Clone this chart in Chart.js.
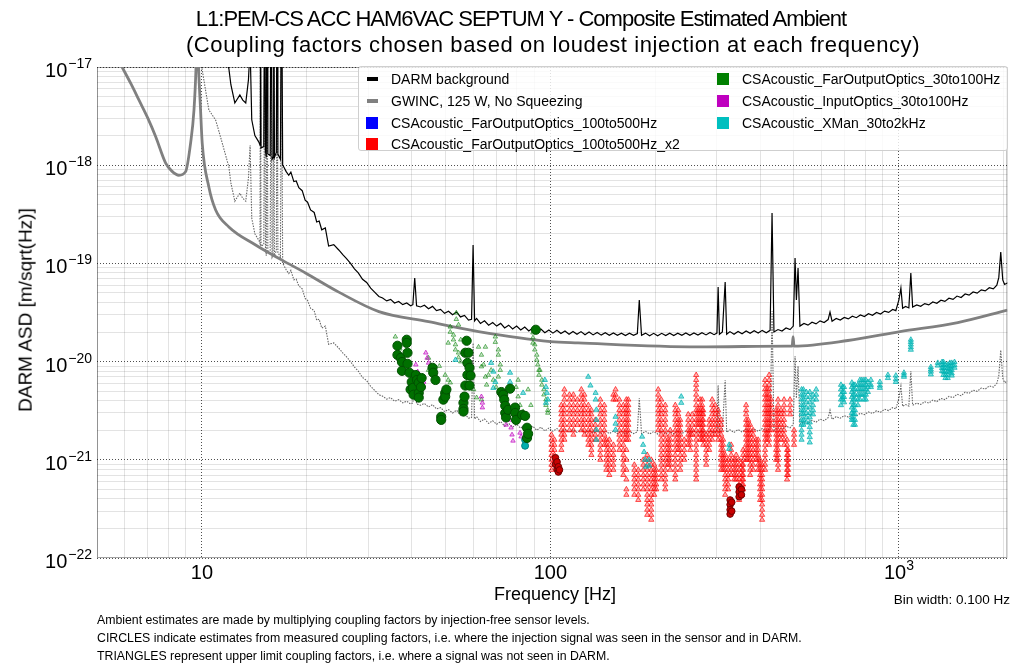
<!DOCTYPE html>
<html><head><meta charset="utf-8">
<script src="https://cdn.jsdelivr.net/npm/chart.js@4.4.1/dist/chart.umd.min.js"></script>
<style>
body{margin:0;background:#fff;font-family:"Liberation Sans",Arial,Helvetica,sans-serif;}
#wrap{position:relative;width:1013px;height:665px;overflow:hidden;background:#fff;}
#c{position:absolute;left:0;top:0;}
.t{position:absolute;white-space:nowrap;color:#000;line-height:1.2;}
.cy{transform:translateY(-50%);}
.cxy{transform:translate(-50%,-50%);}
#legend{position:absolute;left:358px;top:66px;width:650px;height:85px;background:rgba(255,255,255,0.82);border:1px solid #cfcfcf;border-radius:3px;box-sizing:border-box;}
.lt{position:absolute;font-size:14px;white-space:nowrap;transform:translateY(-50%);line-height:1.2;}
.lm{position:absolute;}
</style></head><body>
<div id="wrap">
<canvas id="c" width="1013" height="665"></canvas>
<div class="t cxy" style="left:521px;top:19px;font-size:22px;letter-spacing:-1px;">L1:PEM-CS ACC HAM6VAC SEPTUM Y - Composite Estimated Ambient</div>
<div class="t cxy" style="left:553px;top:45px;font-size:22px;letter-spacing:0.6px;">(Coupling factors chosen based on loudest injection at each frequency)</div>
<div id="legend">
  <div class="lm" style="left:8px;top:10px;width:11px;height:4px;background:#000;"></div>
  <div class="lt" style="left:32px;top:12px;">DARM background</div>
  <div class="lm" style="left:8px;top:32px;width:11px;height:4px;background:#808080;"></div>
  <div class="lt" style="left:32px;top:34px;">GWINC, 125 W, No Squeezing</div>
  <div class="lm" style="left:7px;top:50px;width:12px;height:12px;background:#0000ff;"></div>
  <div class="lt" style="left:32px;top:56px;">CSAcoustic_FarOutputOptics_100to500Hz</div>
  <div class="lm" style="left:7px;top:71px;width:12px;height:12px;background:#ff0000;"></div>
  <div class="lt" style="left:32px;top:77px;">CSAcoustic_FarOutputOptics_100to500Hz_x2</div>
  <div class="lm" style="left:358px;top:6px;width:12px;height:12px;background:#008000;"></div>
  <div class="lt" style="left:383px;top:12px;">CSAcoustic_FarOutputOptics_30to100Hz</div>
  <div class="lm" style="left:358px;top:28px;width:12px;height:12px;background:#bf00bf;"></div>
  <div class="lt" style="left:383px;top:34px;">CSAcoustic_InputOptics_30to100Hz</div>
  <div class="lm" style="left:358px;top:50px;width:12px;height:12px;background:#00bfbf;"></div>
  <div class="lt" style="left:383px;top:56px;">CSAcoustic_XMan_30to2kHz</div>
</div>
<div class="t" style="left:26px;top:310px;font-size:19px;transform:translate(-50%,-50%) rotate(-90deg);">DARM ASD [m/sqrt(Hz)]</div>
<div class="t cxy" style="left:555px;top:595px;font-size:18px;">Frequency [Hz]</div>
<div class="t cy" style="right:3px;top:600px;font-size:13.5px;">Bin width: 0.100 Hz</div>
<div class="t cy" style="left:97px;top:620px;font-size:12.3px;">Ambient estimates are made by multiplying coupling factors by injection-free sensor levels.</div>
<div class="t cy" style="left:97px;top:638px;font-size:12.3px;">CIRCLES indicate estimates from measured coupling factors, i.e. where the injection signal was seen in the sensor and in DARM.</div>
<div class="t cy" style="left:97px;top:656px;font-size:12.3px;">TRIANGLES represent upper limit coupling factors, i.e. where a signal was not seen in DARM.</div>
</div>
<script>
// ---------------- DATA ----------------
// DARM background ASD [Hz] / [m/sqrt(Hz)]
const darmFreq = [9.8,10.47,10.95,11.31,11.95,12.11,12.43,12.85,13.1,13.36,13.6,13.75,13.9,14.19,14.57,14.68,14.72,14.78,15.05,15.14,15.22,15.3,15.38,15.46,15.7,15.8,15.9,16.0,16.07,16.15,16.35,16.44,16.52,16.8,16.92,17.05,17.18,17.45,17.75,18.0,18.36,18.65,18.97,19.4,19.78,20.1,20.5,21.0,21.35,21.7,22.07,22.6,23.1,23.9,
24.7,25.4,26.0,26.7,27.4,28.1,28.9,29.7,30.5,31.3,32.2,33.0,33.9,34.8,35.7,36.7,37.7,38.7,39.7,40.3,40.8,41.3,42.4,43.5,44.7,45.9,47.1,48.4,49.7,51.0,52.4,53.8,55.2,56.7,58.2,59.4,60.0,60.6,61.4,63.0,64.7,66.5,68.3,70.1,72.0,73.9,75.9,77.9,80.0,82.2,84.4,86.7,89.0,91.4,93.9,96.4,99.0,101.7,104.4,107.2,110.1,113.1,116.1,119.2,122.4,125.7,129.1,132.6,136.2,139.9,143.7,147.6,151.6,155.7,159.9,164.2,168.6,173.2,177.6,179.9,182.6,187.5,192.6,197.8,203.1,208.6,214.2,220.0,225.9,232.0,238.3,244.7,251.3,258.1,265.1,272.2,279.6,287.1,294.9,300.5,302.9,305.5,311.5,317.3,320.5,327.5,336.4,345.5,354.8,364.4,374.2,384.3,394.7,405.3,416.3,427.0,432.5,438.0,449.8,461.9,474.4,487.2,497.6,503.5,508.0,513.6,520.0,534.0,548.4,563.2,578.4,594.0,610.1,626.5,634.3,643.0,660.8,678.6,697.0,715.8,735.1,755.0,775.3,796.3,817.8,839.9,862.5,885.8,909.8,934.3,959.6,980,1000,1013.3,1025,1045,1068,1082,1095,1125,1155,1186,1218,1251,1285,1320,1355,1392,1430,1468,1508,1549,1590,1633,1677,1723,1769,1817,1866,1910,1935,1960,1986,2010,2053];
const darmASD = [1.5e-16,3.65e-17,2.88e-17,1.94e-17,9.6e-18,6.6e-18,4.3e-18,5.2e-18,4.6e-18,4.3e-18,7.4e-18,1.6e-17,2.9e-18,2.0e-18,1.72e-18,1.6e-18,2e-16,1.5e-18,1.55e-18,2e-16,1.4e-18,1.2e-18,2e-16,1.3e-18,1.25e-18,2e-16,1.15e-18,1.2e-18,2e-16,1.2e-18,1.35e-18,2e-16,1.3e-18,1.15e-18,2e-16,1.0e-18,9.6e-19,8.6e-19,7.9e-19,8.5e-19,6.8e-19,6.9e-19,5.9e-19,5.5e-19,4.4e-19,4.2e-19,3.5e-19,3.3e-19,2.64e-19,2.7e-19,2.2e-19,2.3e-19,1.5e-19,1.55e-19,
1.37e-19,1.22e-19,1.12e-19,1.0e-19,8.8e-20,8.0e-20,6.9e-20,6.4e-20,5.6e-20,5.1e-20,4.6e-20,4.45e-20,4.15e-20,4.3e-20,3.95e-20,4.1e-20,3.8e-20,3.95e-20,3.7e-20,3.8e-20,7.1e-20,3.7e-20,3.6e-20,3.75e-20,3.45e-20,3.65e-20,3.3e-20,3.4e-20,3.1e-20,3.25e-20,3.0e-20,3.2e-20,2.85e-20,2.95e-20,2.65e-20,2.7e-20,1.54e-19,2.6e-20,2.75e-20,2.45e-20,2.6e-20,2.35e-20,2.5e-20,2.3e-20,2.45e-20,2.2e-20,2.35e-20,2.15e-20,2.3e-20,2.1e-20,2.25e-20,2.05e-20,2.2e-20,2.0e-20,2.15e-20,1.97e-20,2.1e-20,1.95e-20,2.08e-20,1.93e-20,2.05e-20,1.9e-20,2.03e-20,1.9e-20,2.02e-20,1.88e-20,2.0e-20,1.87e-20,1.98e-20,1.86e-20,1.97e-20,1.85e-20,1.96e-20,1.85e-20,1.95e-20,1.84e-20,1.95e-20,1.85e-20,1.93e-20,4.24e-20,1.85e-20,1.95e-20,1.83e-20,1.94e-20,1.83e-20,1.94e-20,1.84e-20,1.95e-20,1.84e-20,1.95e-20,1.85e-20,1.96e-20,1.85e-20,1.96e-20,1.86e-20,1.97e-20,1.87e-20,1.98e-20,1.88e-20,1.95e-20,5.75e-20,1.9e-20,2.0e-20,6.46e-20,1.9e-20,2.02e-20,1.9e-20,2.03e-20,1.92e-20,2.05e-20,1.94e-20,2.06e-20,1.95e-20,2.08e-20,1.97e-20,2.08e-20,3.26e-19,2.0e-20,2.12e-20,2.05e-20,2.2e-20,2.12e-20,2.3e-20,1.135e-19,4.24e-20,8.98e-20,2.3e-20,2.45e-20,2.35e-20,2.52e-20,2.42e-20,2.6e-20,2.5e-20,2.68e-20,3.2e-20,2.58e-20,2.75e-20,2.65e-20,2.82e-20,2.72e-20,2.9e-20,2.8e-20,2.98e-20,2.88e-20,3.07e-20,2.96e-20,3.16e-20,3.05e-20,3.27e-20,3.17e-20,3.4e-20,3.3e-20,4.24e-20,5.62e-20,3.5e-20,3.65e-20,3.52e-20,7.98e-20,3.6e-20,3.78e-20,3.66e-20,3.9e-20,3.78e-20,4.05e-20,3.92e-20,4.22e-20,4.1e-20,4.42e-20,4.3e-20,4.65e-20,4.5e-20,4.88e-20,4.75e-20,5.12e-20,4.98e-20,5.38e-20,5.25e-20,5.65e-20,5.5e-20,6.0e-20,7.2e-20,1.306e-19,6.8e-20,6.1e-20,6.35e-20];
// The grey dotted trace of the original figure is the DARM background divided by this factor
const darmRefFactor = 10;

// GWINC noise curve [Hz] / [m/sqrt(Hz)]
const gwincFreq = [5.5,5.9,6.25,6.6,7.0,7.37,7.87,8.2,8.59,8.98,9.28,9.49,9.62,9.7,9.78,9.9,10.02,10.47,10.95,11.95,14.26,16.98,19.82,24.7,32.2,44.7,62.2,100,120,265,480,494,497,500,714,1007,1476,2050];
const gwincASD = [1.6e-17,1.0e-17,6.8e-18,4.6e-18,3.0e-18,1.95e-18,1.05e-18,8.7e-19,7.9e-19,8.6e-19,1.68e-18,3.65e-18,1.0e-17,3e-17,1.0e-17,4.0e-18,1.68e-18,6.0e-19,3.5e-19,2.35e-19,1.54e-19,1.08e-19,8.0e-20,5.1e-20,3.23e-20,2.55e-20,2.02e-20,1.6e-20,1.55e-20,1.41e-20,1.44e-20,1.44e-20,1.8e-20,1.44e-20,1.64e-20,2.02e-20,2.5e-20,3.35e-20];

// Ambient estimates. Each row: [frequency Hz, value1, value2, ...], values in units of 1e-21 m/sqrt(Hz)
const UNIT = 1e-21;
const farOut30to100_circles = [[36.4,14.5,11.7],[37.2,10.9],[37.5,9.9,8.05],[38.7,16.7,15.5],[38.9,12.3,9.5],[39.4,7.7],[39.7,5.2],[40.0,6.2],[40.3,5.4],[40.5,4.6],[41.1,7.3],[41.4,6.5],[41.9,6.1,4.8,4.3],[42.5,5.5],[42.7,6.8],[45.9,8.65],[46.1,7.7],[46.8,6.5],[48.6,2.74,2.55],[49.3,4.1],[49.9,4.8,4.4],[50.3,5.2],[56.3,3.8,3.3,3.1],[56.7,4.4],[57.0,12.3,5.7],[57.5,16.3],[57.8,9.7,7.3],[58.2,12.3],[58.6,8.65,5.7],[59.0,7.2],[72.3,4.9],[73.2,4.6],[73.7,4.1],[74.2,3.55,3.0],[74.6,2.7],[75.6,3.23],[76.6,5.3],[79.2,3.4,3.0],[79.7,2.55],[82.9,2.87],[84.6,2.8],[85.7,2.12,1.67],[86.3,1.84],[90.8,21.1]];
const farOut30to100_triangles = [[35.9,17.9],[37.0,13.5],[44.7,10.9,8.2],[45.3,9.3],[48.0,9.0],[49.9,7.3],[50.9,15.5,6.5],[51.6,22.6,20.0,6.1],[52.7,18.7,16.7],[53.4,14.9,13.2],[53.7,31.4,27.0],[54.5,23.7,12.3,11.0],[55.3,16.7,10.0],[58.2,6.5],[60.2,5.2],[61.4,4.3],[62.2,14.1],[63.4,11.7,8.9,4.1],[64.3,9.3],[65.1,14.1,7.0],[65.6,5.8],[66.4,7.3],[67.6,8.2],[68.6,6.5],[69.5,17.9,15.8],[69.9,5.5],[70.9,13.2,11.7,7.0],[71.8,9.3,8.2],[79.7,5.5],[80.8,6.5,4.4],[81.8,3.6],[83.5,3.1],[86.3,5.2],[87.9,3.6],[89.1,19.7,17.5,15.5],[90.2,14.9,13.2],[91.4,11.7,10.4],[92.0,9.3],[92.7,8.2,7.3],[93.3,8.2],[94.5,6.5,5.8],[95.8,5.2,4.6],[97.1,4.1,3.6],[98.3,3.2,3.0]];
const inputOptics_triangles = [[41.1,9.3],[41.6,7.9],[42.2,6.5],[42.5,5.2],[43.3,7.0,6.2],[43.9,12.3],[44.3,10.9],[44.7,9.7],[63.4,4.4],[63.8,3.8,3.4],[74.6,2.27],[76.6,5.2,2.55],[77.1,2.12],[77.6,1.8],[78.1,1.56],[81.8,1.88],[82.4,1.72]];
const xman_circles = [[84.6,1.6,1.39]];
const xman_triangles = [[53.4,10.4],[67.6,9.7],[68.6,7.9,5.4],[69.5,6.2],[76.6,7.7,6.2],[83.5,4.8],[96.4,6.5],[97.1,5.5,3.8],[97.7,4.8],[98.3,4.1],[128.4,7.0],[130.3,5.7],[134.8,4.8,4.1],[135.5,3.23,2.55,2.02,1.6],[153.8,2.74,2.33,2.02],[183.3,1.72],[184.5,1.42],[185.7,1.2],[186.9,1.0],[188.1,0.85],[192,1.0,0.87],[237.4,4.4,3.8],[325.8,1.42,1.29],
[525.6,5.2,4.6,4.1,3.6,3.2,2.9,2.55,2.27,2.0,1.8,1.6],[532,5.2,4.6,4.1,3.6,3.2,2.9,2.55,2.27],[542.5,4.9,4.35,3.85,3.4,3.0,2.7,2.4],[555,4.9,4.35,3.85,3.4,3.0,2.7,2.4,2.15,1.9,1.7,1.5],[567,4.6,4.1,3.6,3.2,2.9],[579,5.2,4.6,4.1],
[682,5.8,5.2,4.6,4.1,3.6],[690,5.5,4.9,4.35,4.1],[696,5.5,4.9,4.35,3.85],[733,6.1,5.5,4.9,4.35,3.85,3.4,3.0,2.7,2.55],[740,5.8,5.2,4.6,4.1,3.6,3.2,2.9,2.55,2.27],[748,5.8,5.2,4.6,4.1,3.6,3.2,2.9,2.55,2.27],[763,5.8,5.2,4.6,4.1,3.6],[773,6.5,5.8,5.2,4.6,4.1],[783,6.5,5.8,5.2,4.6],[794,6.5,5.8,5.2,4.6,4.1],[804,6.5,5.8,5.2,4.6,4.1],[815,6.2,5.5,4.9],[831,6.5,5.8,5.5],[882,6.2,5.7,5.4],[930,7.3,6.8],[980,7.2,6.6,6.2],[1034,7.7,7.3,7.0],[1082,16.7,15.8,14.9,14.0,13.2],[1235,8.8,8.3,7.9,7.4],[1293,9.7,9.1],[1330,9.9,9.2,8.6,8.0],[1342,9.9,9.2,8.65,7.9,7.3],[1360,9.3,8.6,7.9,7.3,6.8],[1381,9.3,8.6,7.9,7.3,6.8],[1400,9.7,9.0,8.4,7.9],[1418,9.7,8.9,8.2,7.6,7.2],[1444,9.9,9.2,8.65]];
const farOut100to500_circles = [];
const farOut100to500x2_circles = [[103.4,1.05,0.9],[104.5,0.95,0.8],[105.4,0.85,0.75],[106.2,0.79],[327.9,0.39,0.35,0.31,0.28],[331.4,0.37,0.3],[348,0.53,0.47,0.42],[353.3,0.5,0.44]];
const farOut100to500x2_triangles = [
[100.7,1.8,1.6,1.42,1.26,1.12,1.0,0.89,0.79],[102.7,1.6,1.42,1.26,1.12,1.0,0.89],[107.5,3.6,3.2,2.9,2.55,2.27,2.0,1.8,1.6,1.42,1.26],[109.7,5.2,4.6,4.1,3.6,3.2,2.9,2.55,2.27,2.0,1.8,1.6],[113.4,4.6,4.1,3.6,3.2,2.9,2.55,2.27,2.0],[116.4,4.6,4.1,3.6,3.2,2.9,2.55,2.27,2.0,1.8],[119.5,4.1,3.6,3.2,2.9,2.55,2.27],[122.7,5.2,4.6,4.1,3.6,3.2,2.9,2.55,2.27,2.0],[125.2,4.6,4.1,3.6,3.2,2.9,2.55,2.27,2.0,1.8],[128.5,3.6,3.2,2.9,2.55,2.27,2.0,1.8,1.6,1.42],[131.1,3.2,2.9,2.55,2.27,2.0,1.8,1.6,1.42,1.26,1.12],[134.5,2.55,2.27,2.0,1.8,1.6],[139.1,4.1,3.6,3.2,2.9,2.55,2.27,2.0,1.8,1.6,1.42,1.26,1.12,1.0],[142.8,3.6,3.2,2.9,2.55,2.27,2.0,1.8,1.6,1.42],[144.7,1.6,1.42,1.26,1.12,1.0,0.89,0.79],[147.6,1.6,1.42,1.26,1.12,1.0,0.89,0.79,0.70],[151.6,4.6,4.1,1.42,1.26,1.12,1.0,0.89,0.79],[153.8,5.2,4.6,4.1],[157.7,4.1,3.6,3.2,2.9,2.55,2.27,2.0,1.8,1.6,1.42,1.26],[161.9,3.6,3.2,2.9,2.55,2.27,2.0,1.8,1.6,1.42,1.26,1.12,1.0,0.89,0.79,0.70],[165.2,4.1,3.6,3.2,2.9,2.55,2.27,2.0,1.8,1.6,1.26,1.0,0.79,0.63,0.50,0.44],[167.3,4.1,3.6,3.2,2.9,2.55,2.27,2.0,1.8,1.6],
[174.1,0.89,0.79,0.70,0.63,0.56,0.50,0.44],[178.7,0.79,0.70,0.63,0.56,0.50,0.44,0.39],[184.7,1.0,0.89,0.79,0.70,0.63,0.56,0.50],[189.6,1.12,1.0,0.89,0.79,0.70,0.63,0.56,0.50,0.44,0.39,0.35,0.31,0.275],[194.7,1.0,0.89,0.79,0.70,0.63,0.56,0.50,0.44,0.39,0.35,0.31,0.275,0.245],[198.6,0.89,0.79,0.70,0.63,0.56,0.50,0.44],[201.2,0.79,0.70,0.63,0.56,0.50],[203.9,5.2,4.6,4.1,3.6,3.2,2.9,2.55,2.27,2.0],[208.0,4.1,3.6,3.2,2.9,2.55,2.27,2.0,1.8,1.6,1.42,1.26,1.12,1.0,0.89,0.79,0.70,0.63],[213.6,3.6,3.2,2.9,2.55,2.27,2.0,1.8,1.6,1.42,1.26,1.12,1.0,0.89,0.79,0.70,0.63,0.56,0.50],[217.8,1.6,1.42,1.26,1.12,1.0,0.89],[220.7,2.0,1.8,1.6,1.42,1.26,1.12,1.0,0.89,0.79],[228.2,3.6,3.2,2.9,2.55,2.27,2.0,1.8,1.6,1.42,1.26,1.12,1.0,0.89,0.79,0.70,0.63],[232.7,3.2,2.9,2.55,2.27,2.0,1.8,1.6,1.42,1.26],[235.8,2.55,2.27,2.0,1.8,1.6,1.42,1.26,1.12,1.0,0.89,0.79],[242.1,1.6,1.42,1.26,1.12,1.0],[248.6,2.9,2.55,2.27,2.0,1.8,1.6,1.42],[251.9,2.0,1.8,1.6,1.42,1.26],[255.3,2.9,2.55,2.27,2.0,1.8],
[262.0,7.3,6.5,5.8,5.2,4.6,4.1,3.6,3.2,2.9,2.55,2.27,2.0,1.8,1.6,1.42,1.26,1.12,1.0,0.89,0.79,0.70,0.63],[265.5,3.2,2.9,2.55,2.27],[268.9,4.1,3.6,3.2,2.9,2.55,2.27,2.0,1.8,1.6],[272.6,4.1,3.6,3.2,2.9,2.55,2.27,2.0,1.8,1.6],[274.4,3.2,2.9,2.55,2.27,2.0,1.8,1.6,1.42],[279.9,1.8,1.6,1.42,1.26,1.12,1.0,0.89],[285.5,2.55,2.27,2.0,1.8,1.6,1.42,1.26],[291.2,4.1,3.6,3.2,2.9,2.55,2.27,2.0,1.8,1.6],[297.0,3.6,3.2,2.9,2.55,2.27,2.0,1.8],[302.9,3.2,2.9,2.55,2.27,2.0,1.8,1.6],[309.0,2.55,2.27,2.0,1.8,1.6,1.42,1.26,1.12,1.0,0.89,0.79],[313.1,1.6,1.42,1.26,1.12,1.0,0.89,0.79],[317.3,1.12,1.0,0.89,0.79,0.70,0.63,0.56,0.50,0.44],[323.6,1.0,0.89,0.79,0.70,0.63,0.56,0.50],[330.1,1.42,1.26,1.12,1.0,0.89,0.79,0.70],[336.7,1.0,0.89,0.79,0.70,0.63],[341.2,1.12,1.0,0.89,0.79,0.70,0.63],[348.0,1.0,0.89,0.79,0.70,0.63,0.56,0.50,0.44,0.39],[354.9,0.89,0.79,0.70,0.63,0.56,0.50,0.44],[357.3,1.26,1.12,1.0,0.89,0.79,0.70,0.63,0.56,0.50],
[364.4,3.6,3.2,2.9,2.55,2.27,2.0,1.8,1.6,1.42,1.26,1.12,1.0],[369.3,2.55,2.27,2.0,1.8,1.6,1.42,1.26,1.12,1.0],[374.2,2.27,2.0,1.8,1.6,1.42,1.26,1.12,1.0,0.89,0.79,0.70],[381.7,2.0,1.8,1.6,1.42,1.26,1.12,1.0,0.89,0.79],[389.3,1.6,1.42,1.26,1.12,1.0],[394.5,1.6,1.42,1.26,1.12,1.0,0.89,0.79],[399.7,1.0,0.89,0.79,0.70,0.63,0.56,0.50,0.44,0.39],[405.0,0.89,0.79,0.70,0.63,0.56,0.50,0.44,0.39,0.35,0.31,0.275,0.245],[413.1,6.5,5.8,5.2,4.6,4.1,3.6,3.2,2.9,2.55,2.27,2.0,1.8,1.6,1.42,1.26,1.12,1.0,0.89,0.79],[418.7,5.2,4.6,4.1,3.6,3.2,2.9,2.55,2.27,2.0,1.8,1.6],[424.2,7.3,6.5,5.8,5.2,4.6,4.1,3.6,3.2,2.9,2.55,2.27,2.0,1.8,1.6,1.42],[429.7,4.1,3.6,3.2,2.9,2.55,2.27,2.0],[444.2,3.2,2.9,2.55,2.27,2.0,1.8,1.6,1.42,1.26,1.12,1.0],[450.0,4.1,3.6,3.2,2.9,2.55,2.27,2.0,1.8,1.6,1.42,1.26,1.12,1.0,0.89,0.79],[459.0,3.2,2.9,2.55,2.27,2.0,1.8,1.6],[468.3,4.1,3.6,3.2,2.9,2.55,2.27,2.0,1.8,1.6,1.42],[477.6,1.6,1.42,1.26,1.12,1.0,0.89,0.79,0.70,0.63],[480.8,1.26,1.12,1.0,0.89,0.79,0.70],[487.1,4.1,3.6,3.2,2.9],[500.2,2.0,1.8,1.6,1.42]];

// Axis ticks
const xMin = 5, xMax = 2048, yMin = 1e-22, yMax = 1e-17;
const xTickValues = [10, 100, 1000];
const xTickLabels = ['10', '100', '10^3'];
const yTickValues = [1e-22, 1e-21, 1e-20, 1e-19, 1e-18, 1e-17];
const yTickLabels = ['10^\u221222', '10^\u221221', '10^\u221220', '10^\u221219', '10^\u221218', '10^\u221217'];

// ---------------- BUILD ----------------
function stripsToPoints(strips){
  const pts=[];
  for(const s of strips){ for(let i=1;i<s.length;i++) pts.push({x:s[0], y:s[i]*UNIT}); }
  return pts;
}
function pairPoints(f, v){ return f.map((x,i)=>({x, y:v[i]})); }
function gridValues(min, max){
  const out=[];
  for(let e=Math.floor(Math.log10(min)); e<=Math.ceil(Math.log10(max)); e++){
    for(let k=1;k<=9;k++){ const v=k*Math.pow(10,e); if(v>=min*0.999 && v<=max*1.001) out.push(v); }
  }
  return out;
}
const isMajor = v => Math.abs(Math.log10(v)-Math.round(Math.log10(v)))<1e-6;
const triStyle = (fill, stroke, r) => ({pointStyle:'triangle', pointRadius:r, backgroundColor:fill, borderColor:stroke, borderWidth:0.8, showLine:false});
const circStyle = (fill, stroke, r) => ({pointStyle:'circle', pointRadius:r, backgroundColor:fill, borderColor:stroke, borderWidth:1, showLine:false});

const datasets = [
  Object.assign({label:'FarOutputOptics_100to500Hz_x2 (measured)', data:stripsToPoints(farOut100to500x2_circles), order:1}, circStyle('rgb(200,0,0)','rgb(110,0,0)',3.3)),
  Object.assign({label:'FarOutputOptics_30to100Hz (measured)', data:stripsToPoints(farOut30to100_circles), order:2}, circStyle('rgb(0,112,0)','rgb(0,80,0)',4.6)),
  Object.assign({label:'XMan_30to2kHz (measured)', data:stripsToPoints(xman_circles), order:3}, circStyle('rgb(0,175,175)','rgb(0,130,130)',3.5)),
  Object.assign({label:'FarOutputOptics_100to500Hz (measured)', data:stripsToPoints(farOut100to500_circles), order:4}, circStyle('#0000ff','#0000aa',3.5)),
  Object.assign({label:'XMan_30to2kHz (upper limit)', data:stripsToPoints(xman_triangles), order:5}, triStyle('rgba(0,191,191,0.5)','rgba(0,175,175,0.9)',3)),
  Object.assign({label:'InputOptics_30to100Hz (upper limit)', data:stripsToPoints(inputOptics_triangles), order:6}, triStyle('rgba(191,0,191,0.3)','rgba(191,0,191,0.85)',2.6)),
  Object.assign({label:'FarOutputOptics_30to100Hz (upper limit)', data:stripsToPoints(farOut30to100_triangles), order:7}, triStyle('rgba(0,128,0,0.2)','rgba(0,128,0,0.7)',2.6)),
  Object.assign({label:'FarOutputOptics_100to500Hz_x2 (upper limit)', data:stripsToPoints(farOut100to500x2_triangles), order:8}, triStyle('rgba(255,0,0,0.3)','rgba(255,0,0,0.85)',3)),
  {label:'DARM background', data:pairPoints(darmFreq, darmASD), showLine:true, pointRadius:0, borderColor:'#000', borderWidth:1.2, tension:0, order:10},
  {label:'GWINC, 125 W, No Squeezing', data:pairPoints(gwincFreq, gwincASD), showLine:true, pointRadius:0, borderColor:'#808080', borderWidth:2.8, cubicInterpolationMode:'monotone', order:11},
  {label:'DARM background / 10', data:pairPoints(darmFreq, darmASD.map(v=>v/darmRefFactor)), showLine:true, pointRadius:0, borderColor:'#666666', borderWidth:1.1, borderDash:[1.5,1.2], tension:0, order:12}
];

const FONT = '"Liberation Sans", Arial, Helvetica, sans-serif';
const decor = {
  id:'decor',
  beforeDatasetsDraw(chart){
    const {ctx, chartArea:a} = chart;
    ctx.save();
    ctx.strokeStyle='rgba(0,0,0,0.45)'; ctx.lineWidth=0.8; ctx.setLineDash([]);
    ctx.strokeRect(a.left+0.5, a.top+0.5, a.right-a.left-1, a.bottom-a.top-1);
    ctx.restore();
  },
  afterDraw(chart){
    const {ctx, scales:{x,y}} = chart;
    ctx.save(); ctx.fillStyle='#000'; ctx.textBaseline='alphabetic'; ctx.textAlign='left';
    const bf='20px '+FONT, sf='14px '+FONT;
    const parts = s => s.split('^');
    xTickValues.forEach((v,i)=>{
      const [b,s]=parts(xTickLabels[i]);
      ctx.font=bf; const wb=ctx.measureText(b).width;
      ctx.font=sf; const ws=s?ctx.measureText(s).width:0;
      const px=x.getPixelForValue(v), left=px-(wb+ws)/2;
      ctx.font=bf; ctx.fillText(b,left,579);
      if(s){ ctx.font=sf; ctx.fillText(s,left+wb,570); }
    });
    yTickValues.forEach((v,i)=>{
      const [b,s]=parts(yTickLabels[i]);
      ctx.font=bf; const wb=ctx.measureText(b).width;
      ctx.font=sf; const ws=s?ctx.measureText(s).width:0;
      const py=y.getPixelForValue(v), left=92-(wb+ws+1);
      ctx.font=bf; ctx.fillText(b,left,py+10);
      if(s){ ctx.font=sf; ctx.fillText(s,left+wb+1,py+1); }
    });
    ctx.restore();
  }
};

const gridCfg = {
  display:true, drawTicks:false, drawOnChartArea:true, lineWidth:1,
  color: c => (c.tick && isMajor(c.tick.value)) ? 'rgba(60,60,60,0.9)' : 'rgba(0,0,0,0.11)'
};
const borderCfg = { display:false, dash: c => (c.tick && isMajor(c.tick.value)) ? [1,2] : [] };

new Chart(document.getElementById('c'), {
  type:'scatter',
  data:{datasets},
  plugins:[decor],
  options:{
    responsive:false, animation:false, devicePixelRatio:1, events:[],
    layout:{padding:{left:97, right:3, top:67, bottom:107}},
    plugins:{legend:{display:false}, tooltip:{enabled:false}, title:{display:false}},
    scales:{
      x:{type:'logarithmic', min:xMin, max:xMax, position:'bottom',
         ticks:{display:false}, grid:gridCfg, border:borderCfg, title:{display:false},
         afterBuildTicks: s => { s.ticks = gridValues(xMin,xMax).map(v=>({value:v, major:isMajor(v)})); },
         afterFit: s => { s.height = 0; }},
      y:{type:'logarithmic', min:yMin, max:yMax, position:'left',
         ticks:{display:false}, grid:gridCfg, border:borderCfg, title:{display:false},
         afterBuildTicks: s => { s.ticks = gridValues(yMin,yMax).map(v=>({value:v, major:isMajor(v)})); },
         afterFit: s => { s.width = 0; }}
    }
  }
});
</script>
</body></html>
